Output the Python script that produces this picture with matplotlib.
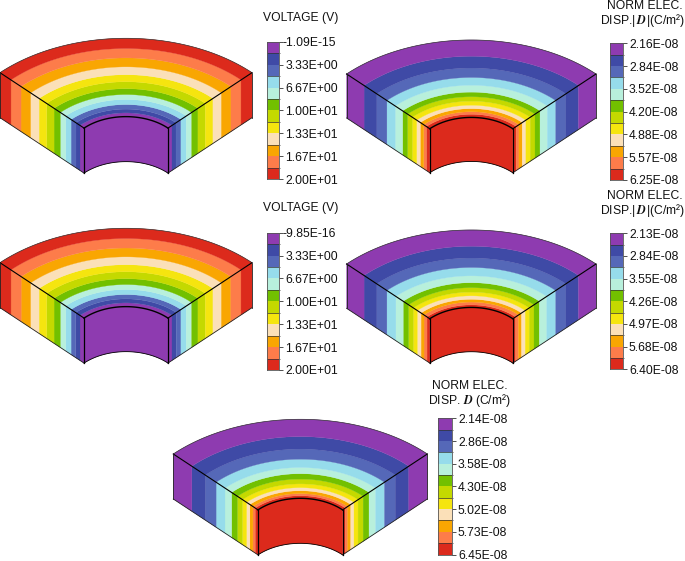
import numpy as np
import matplotlib
matplotlib.use("Agg")
import matplotlib.pyplot as plt
from matplotlib.colors import ListedColormap
from matplotlib.transforms import ScaledTranslation

plt.rcParams['font.family'] = ['Liberation Sans', 'DejaVu Sans']
plt.rcParams['mathtext.fontset'] = 'stix'

# contour colours, bottom of the scale first
band_colors = ["#8E3BB0", "#3F4AA6", "#5568B8", "#96DCEB", "#B8F0DC", "#72C000",
               "#C4D900", "#F5E50F", "#FBE0B8", "#F9A602", "#FD7C4A", "#DC2A1C"]

edges_volt_a = [0.333, 0.365, 0.397, 0.436, 0.479, 0.521, 0.571, 0.630, 0.690, 0.757, 0.833, 0.913, 1.0]
edges_volt_b = [0.333, 0.365, 0.399, 0.436, 0.479, 0.521, 0.571, 0.630, 0.690, 0.757, 0.832, 0.913, 1.0]
edges_disp_a = [0.333, 0.360, 0.382, 0.409, 0.438, 0.473, 0.511, 0.551, 0.610, 0.677, 0.758, 0.860, 1.0]
edges_disp_b = [0.333, 0.355, 0.379, 0.403, 0.433, 0.465, 0.503, 0.546, 0.605, 0.677, 0.758, 0.860, 1.0]
edges_disp_c = [0.333, 0.355, 0.373, 0.397, 0.423, 0.455, 0.495, 0.541, 0.593, 0.663, 0.748, 0.854, 1.0]

labels_volt_a = ["-1.09E-15", "3.33E+00", "6.67E+00", "1.00E+01", "1.33E+01", "1.67E+01", "2.00E+01"]
labels_volt_b = ["-9.85E-16", "3.33E+00", "6.67E+00", "1.00E+01", "1.33E+01", "1.67E+01", "2.00E+01"]
labels_disp_a = ["2.16E-08", "2.84E-08", "3.52E-08", "4.20E-08", "4.88E-08", "5.57E-08", "6.25E-08"]
labels_disp_b = ["2.13E-08", "2.84E-08", "3.55E-08", "4.26E-08", "4.97E-08", "5.68E-08", "6.40E-08"]
labels_disp_c = ["2.14E-08", "2.86E-08", "3.58E-08", "4.30E-08", "5.02E-08", "5.73E-08", "6.45E-08"]

W, H = 685, 561
fig = plt.figure(figsize=(W / 100, H / 100), dpi=100)
ax = fig.add_axes([0, 0, 1, 1])
ax.set_xlim(0, W)
ax.set_ylim(H, 0)
ax.axis("off")


def wedge(cx, apex, half, corner, height, edges, colors):
    # 90 degree sector, seen from above
    a = half / np.sin(np.pi / 4)
    b = (corner - apex) / (1 - np.cos(np.pi / 4))
    cy = apex + b
    ro = edges[-1]
    ri = edges[0]

    def arc(r, n=80):
        t = np.linspace(-np.pi / 4, np.pi / 4, n)
        return cx + a * r / ro * np.sin(t), cy - b * r / ro * np.cos(t)

    for i in range(len(colors)):
        r1, r2 = edges[i], edges[i + 1]
        c = colors[i]
        x1, y1 = arc(r1)
        x2, y2 = arc(r2)
        ax.fill(np.r_[x1, x2[::-1]], np.r_[y1, y2[::-1]], fc=c, ec=c, lw=0.2, zorder=2)
        for s in (-1, 1):
            xa = cx + s * half * r1 / ro
            xb = cx + s * half * r2 / ro
            ya = cy - (cy - corner) * r1 / ro
            yb = cy - (cy - corner) * r2 / ro
            ax.fill([xa, xb, xb, xa], [ya, yb, yb + height, ya + height], fc=c, ec=c, lw=0.2, zorder=2)

    # inner curved wall
    xi, yi = arc(ri)
    ax.fill(np.r_[xi, xi[::-1]], np.r_[yi, yi[::-1] + height], fc=colors[0], ec=colors[0], lw=0.2, zorder=3)

    xo, yo = arc(ro)
    yc = cy - (cy - corner) * ri / ro
    xl = cx - half * ri / ro
    xr = cx + half * ri / ro
    ax.plot(xo, yo, c="#333333", lw=0.5, zorder=4)
    ax.plot(xi, yi, c="k", lw=1.0, zorder=5)
    ax.plot(xi, yi + height, c="k", lw=0.6, zorder=5)
    for s, xe in ((-1, xl), (1, xr)):
        ax.plot([cx + s * half, xe], [corner, yc], c="k", lw=0.8, zorder=5)
        ax.plot([cx + s * half, xe], [corner + height, yc + height], c="#222222", lw=0.6, zorder=5)
        ax.plot([cx + s * half] * 2, [corner, corner + height], c="#222222", lw=0.6, zorder=5)
        ax.plot([xe, xe], [yc, yc + height], c="k", lw=0.9, zorder=5)


def scale(x0, x1, y0, y1, labels):
    # contour legend, top of the bar is the bottom of the scale
    cax = fig.add_axes([x0 / W, 1 - y1 / H, (x1 - x0) / W, (y1 - y0) / H])
    cax.pcolormesh([0, 1], np.arange(13), np.arange(12).reshape(-1, 1),
                   cmap=ListedColormap(band_colors), vmin=0, vmax=11)
    cax.hlines(np.arange(1, 13, 2), 0, 1, colors="#333333", lw=0.5)
    cax.set_xlim(0, 1)
    cax.set_ylim(12, 0)
    cax.set_xticks([])
    cax.yaxis.tick_right()
    cax.set_yticks(np.arange(0, 13, 2))
    cax.set_yticklabels(labels, fontsize=8.7, color="#111111")
    cax.set_yticks(np.arange(1, 13, 2), minor=True)
    cax.tick_params(axis="y", which="major", length=3, width=0.6, color="#333333", pad=1.5)
    cax.tick_params(axis="y", which="minor", length=1, width=0.5, color="#333333")
    for sp in cax.spines.values():
        sp.set_linewidth(0.6)
        sp.set_color("#555555")
    for lab, txt in zip(cax.get_yticklabels(), labels):
        if txt.startswith("-"):
            lab.set_transform(lab.get_transform() + ScaledTranslation(-2 / 72, 0, fig.dpi_scale_trans))


wedge(126, 38.3, 126, 72.7, 45, edges_volt_a, band_colors)
wedge(471.3, 40, 124.7, 74, 44, edges_disp_a, band_colors[::-1])
wedge(126, 228.3, 126, 262.7, 45, edges_volt_b, band_colors)
wedge(471.3, 230, 124.7, 264, 44.3, edges_disp_b, band_colors[::-1])
wedge(300.3, 419.3, 127, 454, 45, edges_disp_c, band_colors[::-1])

scale(266.7, 279.3, 41.7, 179.3, labels_volt_a)
scale(610, 622.7, 43.3, 180, labels_disp_a)
scale(266.7, 279.3, 232.7, 370, labels_volt_b)
scale(610, 622.7, 233.3, 369.3, labels_disp_b)
scale(438.3, 451.7, 418.3, 554.5, labels_disp_c)

tkw = dict(ha="center", va="center", fontsize=8.7, color="#111111")
ax.text(301, 18.3, "VOLTAGE (V)", **tkw)
ax.text(301, 208.3, "VOLTAGE (V)", **tkw)
ax.text(645, 5.7, "NORM ELEC.", **tkw)
ax.text(643, 20, r"DISP.|$\,\mathbfit{D}\,$|(C/m²)", **tkw)
ax.text(645, 195.7, "NORM ELEC.", **tkw)
ax.text(643, 210, r"DISP.|$\,\mathbfit{D}\,$|(C/m²)", **tkw)
ax.text(470, 385.7, "NORM ELEC.", **tkw)
ax.text(469, 400.7, r"DISP. $\mathbfit{D}$ (C/m²)", **tkw)

fig.savefig("out.png", dpi=100)
